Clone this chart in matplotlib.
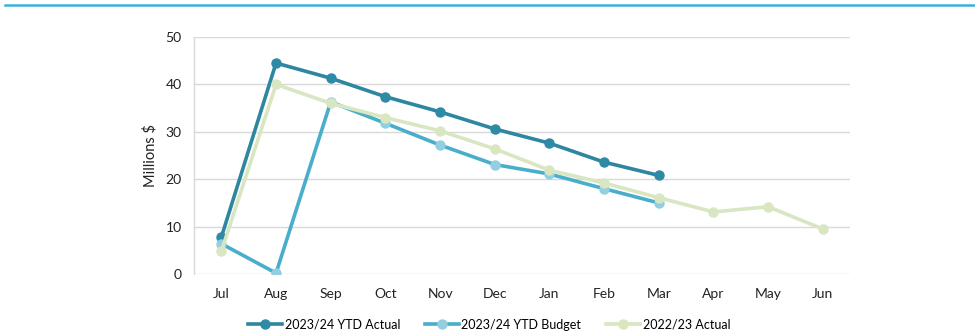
import matplotlib
matplotlib.use("Agg")
import matplotlib.pyplot as plt
from matplotlib.lines import Line2D

plt.rcParams['font.family'] = ['Lato', 'DejaVu Sans']

months = ["Jul", "Aug", "Sep", "Oct", "Nov", "Dec", "Jan", "Feb", "Mar", "Apr", "May", "Jun"]
actual_2324 = [7.8, 44.5, 41.3, 37.4, 34.2, 30.6, 27.6, 23.6, 20.8]
budget_2324 = [6.4, 0.2, 36.3, 31.8, 27.2, 23.1, 21.1, 18.0, 15.0]
actual_2223 = [4.8, 40.0, 36.0, 33.0, 30.2, 26.4, 21.9, 19.2, 16.1, 13.1, 14.2, 9.5]
y_ticks = [0, 10, 20, 30, 40, 50]

fig = plt.figure(figsize=(9.75, 3.33), dpi=100)
ax = fig.add_axes([0.199, 0.177, 0.673, 0.712])

# header rule across the top
fig.add_artist(Line2D([0.005, 1.0], [0.985, 0.985], transform=fig.transFigure,
                      color="#3cb1dc", lw=1.8))

x_all = list(range(len(months)))
ax.plot(x_all[:len(actual_2324)], actual_2324, color="#2f86a0", lw=2.6,
        marker="o", ms=6.5, mfc="#2f8aa5", mec="#2f8aa5", label="2023/24 YTD Actual", zorder=3)
ax.plot(x_all[:len(budget_2324)], budget_2324, color="#48aecb", lw=2.6,
        marker="o", ms=6.5, mfc="#92cfe2", mec="#92cfe2", label="2023/24 YTD Budget", zorder=4)
ax.plot(x_all, actual_2223, color="#d8e6c1", lw=2.6,
        marker="o", ms=6.5, mfc="#d8e6c1", mec="#d8e6c1", label="2022/23 Actual", zorder=5)

ax.set_xlim(-0.5, len(months) - 0.5)
ax.set_ylim(0, 50)
ax.set_yticks(y_ticks)
ax.set_xticks(x_all)
ax.set_xticklabels(months)
ax.tick_params(axis="both", length=0, labelsize=10, colors="#222222")
ax.tick_params(axis="x", pad=10)
ax.tick_params(axis="y", pad=9)
ax.yaxis.grid(True, color="#d9d9d9", lw=1)
ax.set_axisbelow(True)
for side in ["top", "right", "bottom"]:
    ax.spines[side].set_visible(False)
ax.spines["left"].set_color("#d9d9d9")
ax.spines["left"].set_linewidth(1)
ax.set_ylabel("Millions $", fontsize=10.5, color="#222222", labelpad=6)

ax.legend(loc="center", bbox_to_anchor=(0.45, -0.213), ncol=3, frameon=False,
          fontsize=9, handlelength=2.7, handletextpad=0.2, columnspacing=2.0)

fig.savefig("out.png", dpi=100)
